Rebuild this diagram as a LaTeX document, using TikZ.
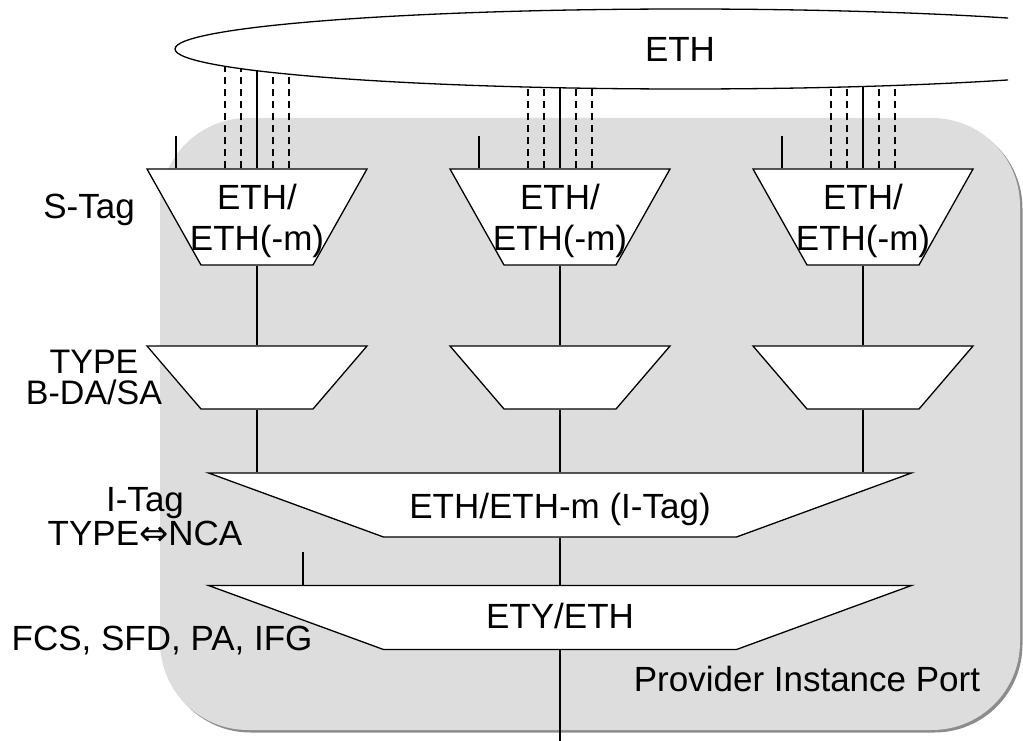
\documentclass[tikz,border=0pt]{standalone}
\usepackage{fontspec}
\setmainfont{Liberation Sans}
\newfontfamily\symfont{DejaVu Sans}
\usetikzlibrary{calc,shapes.geometric,shadows}
\definecolor{portgray}{RGB}{221,221,221}

\begin{document}
\begin{tikzpicture}[x=1pt, y=-1pt, line width=1.3pt,
    port/.style={rectangle, rounded corners=88pt, fill=portgray, minimum width=860pt, minimum height=612pt,
      drop shadow={shadow xshift=2.5pt, shadow yshift=-2.5pt, fill=black!45, opacity=1}},
    trap/.style={trapezium, shape border rotate=180, draw, fill=white},
    stag/.style={trap, trapezium angle=60.64, inner xsep=56pt, inner ysep=48pt},
    typebox/.style={trap, trapezium angle=49.4, inner xsep=56pt, inner ysep=31.5pt},
    widebox/.style={trap, trapezium angle=20.1, inner xsep=176.5pt, inner ysep=32pt},
    lbl/.style={font=\fontsize{35}{41}\selectfont, align=center, inner sep=0pt},
    dashline/.style={dash pattern=on 7pt off 5pt}]
        \useasboundingbox (0,0) rectangle (1023,741);
        % Port area
        \node[port] (pip) at (590,424) {};
        \node[lbl, anchor=base] (pipl) at (807,691) {Provider Instance Port};
        % Nodes
        \node[stag] (s1) at (257,217) {};
        \node[stag] (s2) at (560,217) {};
        \node[stag] (s3) at (863,217) {};
        \node[typebox] (t1) at (257,377.5) {};
        \node[typebox] (t2) at (560,377.5) {};
        \node[typebox] (t3) at (863,377.5) {};
        \node[widebox] (itag) at (560,505) {};
        \node[widebox] (ety) at (560,617.5) {};
        \coordinate (out) at (560,741);
        % Texts
        \node[lbl] (s1t) at ($(s1)+(0,4)$) {ETH/\\ETH(-m)};
        \node[lbl] (s2t) at ($(s2)+(0,4)$) {ETH/\\ETH(-m)};
        \node[lbl] (s3t) at ($(s3)+(0,4)$) {ETH/\\ETH(-m)};
        \node[lbl, anchor=base] (itagt) at (560,518) {ETH/ETH-m (I-Tag)};
        \node[lbl, anchor=base] (etyt) at (560,628) {ETY/ETH};
        \node[lbl, anchor=base] (stagl) at (89,218) {S-Tag};
        \node[lbl, font=\fontsize{34}{31}\selectfont] (typel) at (94,377) {TYPE\\B-DA/SA};
        \node[lbl, font=\fontsize{35}{34}\selectfont] (itagl) at (145,517) {I-Tag\\TYPE{\symfont ⇔}NCA};
        \node[lbl, anchor=base] (fcsl) at (162,650) {FCS, SFD, PA, IFG};
        % Edges
        \draw (s1.south) -- (t1.north);
        \draw (s2.south) -- (t2.north);
        \draw (s3.south) -- (t3.north);
        \draw (t1.south) -- (t1.south |- itag.north);
        \draw (t2.south) -- (t2.south |- itag.north);
        \draw (t3.south) -- (t3.south |- itag.north);
        \draw (itag.south) -- (ety.north);
        \draw (ety.south) -- (out);
        % Ticks
        \draw ($(s1.north)+(-81,0)$) -- +(0,-32);
        \draw ($(s2.north)+(-81,0)$) -- +(0,-32);
        \draw ($(s3.north)+(-81,0)$) -- +(0,-32);
        \draw ($(ety.north)+(-257,0)$) -- +(0,-33);
        % Links to ETH
        \draw (s1.north) -- +(0,-120);
        \draw (s2.north) -- +(0,-120);
        \draw (s3.north) -- +(0,-120);
        \draw[dashline] ($(s1.north)+(-32,0)$) -- +(0,-120) ($(s1.north)+(-16,0)$) -- +(0,-120)
          ($(s1.north)+(16,0)$) -- +(0,-120) ($(s1.north)+(32,0)$) -- +(0,-120);
        \draw[dashline] ($(s2.north)+(-32,0)$) -- +(0,-120) ($(s2.north)+(-16,0)$) -- +(0,-120)
          ($(s2.north)+(16,0)$) -- +(0,-120) ($(s2.north)+(32,0)$) -- +(0,-120);
        \draw[dashline] ($(s3.north)+(-32,0)$) -- +(0,-120) ($(s3.north)+(-16,0)$) -- +(0,-120)
          ($(s3.north)+(16,0)$) -- +(0,-120) ($(s3.north)+(32,0)$) -- +(0,-120);
        % ETH
        \begin{scope}
          \clip (0,0) rectangle (1008,100);
          \node[ellipse, draw, fill=white, minimum width=1020pt, minimum height=80pt] (eth) at (685,49) {};
        \end{scope}
        \node[lbl] (etht) at (680,49) {ETH};
    \end{tikzpicture}
\end{document}
